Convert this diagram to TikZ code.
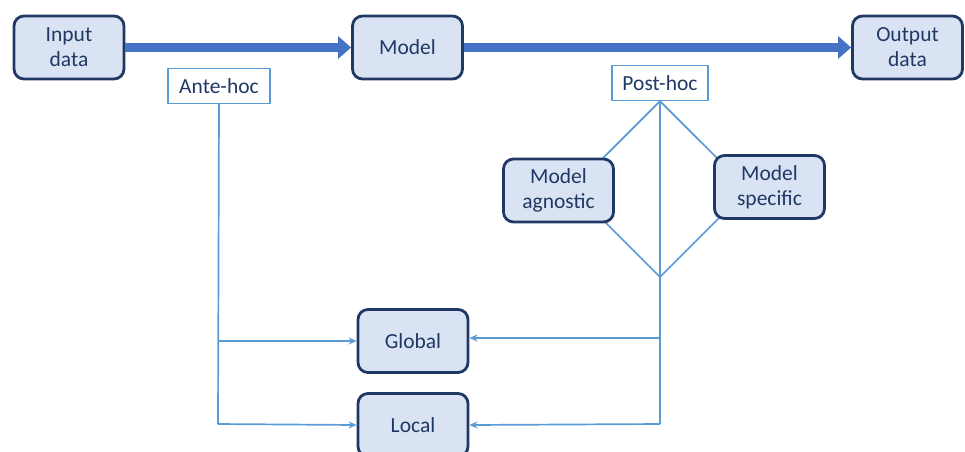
\documentclass[tikz,border=0pt]{standalone}
\usepackage{fontspec}
\setmainfont{Carlito}
\usetikzlibrary{arrows.meta,backgrounds}
\definecolor{boxfill}{HTML}{DAE3F3}
\definecolor{boxline}{HTML}{203864}
\definecolor{thinblue}{HTML}{5B9BD5}
\definecolor{flowblue}{HTML}{4472C4}
\begin{document}
\begin{tikzpicture}[x=1pt,y=-1pt,line join=round,
	font=\fontsize{21.5}{25}\selectfont,
	box/.style={draw=boxline,line width=2.8pt,fill=boxfill,rounded corners=10pt,
		minimum width=110pt,minimum height=63pt,align=center,text=boxline,inner sep=2pt},
	tag/.style={draw=thinblue,line width=1.2pt,fill=white,minimum height=35pt,
		text=boxline,inner sep=0pt},
	flow/.style={flowblue,line width=9pt,-{Triangle[length=13pt,width=22pt]}},
	link/.style={thinblue,line width=1.7pt},
	linkarrow/.style={link,-{Stealth[length=8pt,width=7pt]}}]
	\useasboundingbox (0,0) rectangle (965,451);
	\clip (0,0) rectangle (965,451);
	\node[box] (In) at (69,47.5) {Input\\data};
	\node[box] (Mo) at (407.5,47.5) {Model};
	\node[box] (Out) at (907.5,47.5) {Output\\data};
	\node[tag,minimum width=102pt] (Ante) at (219,86) {Ante-hoc};
	\node[tag,minimum width=96pt] (Post) at (660,83) {Post-hoc};
	\node[box] (Agn) at (558.5,190.5) {Model\\agnostic};
	\node[box] (Spec) at (769.5,187) {Model\\specific};
	\node[box] (Glob) at (413,341) {Global};
	\node[box] (Loc) at (413,425) {Local};
	\coordinate (lt) at (572,189);
	\coordinate (rt) at (748,189);
	\coordinate (bot) at (660,277);
	\coordinate (A1) at (218,341);
	\coordinate (A2) at (218,424);
	\coordinate (P1) at (660,338);
	\coordinate (P2) at (660,424);
	\draw[flow] (In) -- (Mo);
	\draw[flow] (Mo) -- (Out);
	\begin{scope}[on background layer]
		\draw[link] (Post.south) -- (lt) -- (bot) -- (rt) -- cycle;
	\end{scope}
	\draw[link] (Ante.south) -- (A2);
	\draw[link] (Post.south) -- (P2);
	\draw[linkarrow] (A1) -- (Glob.west);
	\draw[linkarrow] (A2) -- (Loc.west);
	\draw[linkarrow] (P1) -- (Glob.east |- P1);
	\draw[linkarrow] (P2) -- (Loc.east);
\end{tikzpicture}
\end{document}
